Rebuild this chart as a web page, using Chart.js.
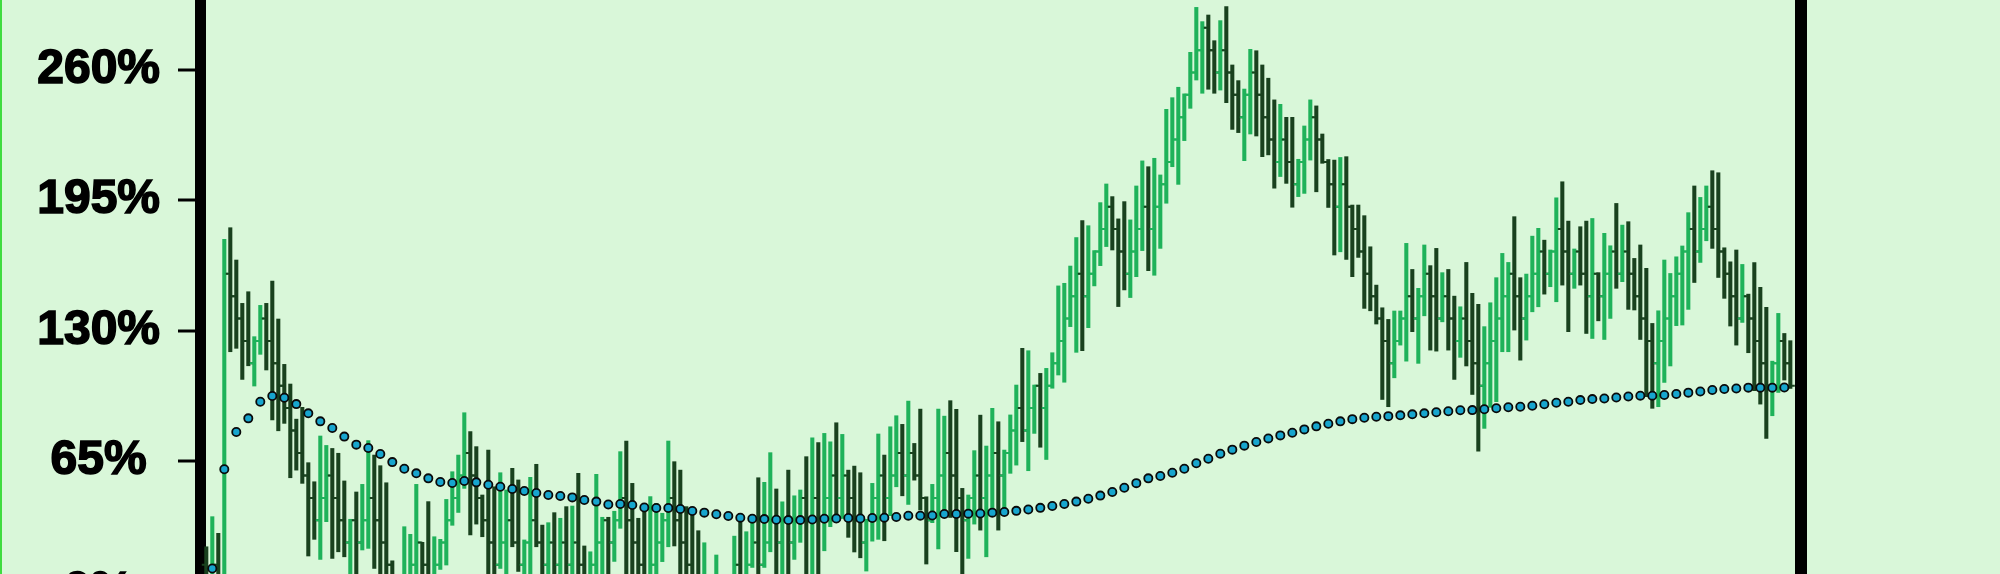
<!DOCTYPE html>
<html><head><meta charset="utf-8">
<script src="https://cdn.jsdelivr.net/npm/chart.js@4.4.1/dist/chart.umd.min.js"></script>
<style>html,body{margin:0;padding:0;background:#d9f7d9;overflow:hidden}#wrap{width:2000px;height:574px;position:relative}</style>
</head><body><div id="wrap"><canvas id="c" width="2000" height="574"></canvas></div>
<script>
const yTickValues = [0, 65, 130, 195, 260];
const opens = [
13.3,2.2,13.3,2.2,158.3,147.1,136.0,124.8,113.7,124.8,
136.0,124.8,113.7,102.5,91.4,80.2,69.0,57.8,46.6,35.5,
46.6,57.8,46.6,35.5,24.4,35.5,24.4,35.5,46.6,35.5,
24.4,13.3,2.2,-8.9,2.2,13.3,24.4,13.3,2.2,13.3,
24.4,35.5,46.6,57.8,69.0,57.8,46.6,35.5,24.4,13.3,
24.4,35.5,24.4,13.3,24.4,35.5,24.4,13.3,24.4,13.3,
24.4,13.3,24.4,13.3,2.2,13.3,24.4,35.5,24.4,35.5,
46.6,35.5,24.4,13.3,2.2,13.3,24.4,35.5,46.6,35.5,
24.4,13.3,2.2,-8.9,2.2,-8.9,2.2,-8.9,2.2,13.3,
2.2,13.3,24.4,13.3,24.4,35.5,24.4,35.5,24.4,35.5,
46.6,35.5,46.6,35.5,46.6,57.8,46.6,57.8,46.6,35.5,
24.4,35.5,46.6,57.8,46.6,57.8,69.0,57.8,69.0,57.8,
46.6,35.5,46.6,57.8,69.0,57.8,46.6,35.5,46.6,57.8,
46.6,57.8,69.0,57.8,69.0,80.2,91.4,80.2,91.4,102.5,
91.4,102.5,113.7,124.8,136.0,147.1,158.3,147.1,158.3,169.4,
180.6,191.7,180.6,169.4,158.3,169.4,180.6,191.7,180.6,191.7,
202.9,214.0,225.2,236.3,247.5,258.6,269.8,280.9,269.8,258.6,
269.8,258.6,247.5,236.3,247.5,258.6,247.5,236.3,225.2,214.0,
225.2,214.0,202.9,214.0,225.2,236.3,225.2,214.0,202.9,191.7,
202.9,191.7,180.6,169.4,158.3,147.1,136.0,124.8,113.7,124.8,
136.0,147.1,136.0,147.1,158.3,147.1,136.0,147.1,136.0,124.8,
136.0,124.8,113.7,102.5,113.7,124.8,136.0,147.1,158.3,147.1,
136.0,147.1,158.3,169.4,158.3,169.4,180.6,169.4,158.3,169.4,
158.3,147.1,158.3,147.1,158.3,169.4,158.3,169.4,158.3,147.1,
136.0,124.8,113.7,124.8,136.0,147.1,158.3,169.4,180.6,169.4,
180.6,191.7,180.6,169.4,158.3,147.1,136.0,147.1,136.0,124.8,
113.7,102.5,113.7,124.8,113.7];
const highs = [
22.3,37.3,29.0,175.5,181.3,165.2,143.6,149.4,127.0,142.6,
143.6,154.7,135.8,113.2,103.4,85.9,91.8,64.2,54.7,77.5,
72.8,71.3,68.9,55.1,36.0,49.6,53.4,75.2,68.0,62.7,
54.2,15.3,5.0,32.3,28.5,53.4,24.5,44.8,27.3,26.0,
45.9,59.7,68.0,89.1,79.7,72.2,48.1,70.5,52.2,59.2,
50.6,61.4,55.6,25.7,56.9,63.4,33.1,34.3,39.3,36.5,
42.3,42.6,58.9,22.7,19.8,58.4,37.0,37.0,40.0,69.7,
75.0,53.9,36.5,42.3,47.3,43.9,39.0,75.0,64.7,60.5,
42.3,38.1,30.3,24.3,5.0,18.2,4.0,6.0,27.6,36.4,
29.8,36.5,56.7,54.4,69.2,51.1,44.7,60.5,47.7,50.6,
67.2,76.6,74.2,78.8,74.6,84.1,78.3,60.5,62.5,59.2,
36.0,53.9,78.5,68.0,82.1,87.6,83.3,94.9,73.8,90.9,
47.2,53.4,90.9,87.4,95.1,90.8,51.4,48.1,70.2,87.9,
72.5,91.3,84.6,70.5,88.0,102.9,121.2,120.0,102.9,108.7,
111.2,119.0,152.3,153.6,162.2,176.4,184.8,182.3,169.9,193.8,
203.1,196.8,185.7,194.3,185.2,202.1,214.6,211.7,215.9,207.6,
240.3,246.1,251.3,248.0,268.7,291.1,284.0,287.3,274.5,284.5,
291.5,262.4,254.6,250.4,270.2,269.5,262.4,255.8,245.0,242.8,
236.3,236.3,215.4,232.0,245.0,242.0,228.0,215.3,215.0,216.3,
216.7,192.6,192.6,187.3,171.8,152.7,141.4,135.6,139.8,139.8,
173.5,160.5,151.1,172.7,162.4,171.0,158.9,160.5,147.2,141.9,
164.0,148.6,143.1,132.0,143.9,156.4,168.5,164.0,186.8,156.4,
158.2,177.1,181.0,175.1,170.2,196.2,204.2,184.6,170.7,181.8,
184.6,185.9,158.9,178.5,172.3,193.4,182.6,184.3,166.0,172.7,
161.0,133.6,139.9,165.2,158.5,166.8,172.2,188.8,202.1,196.4,
202.1,209.7,208.7,171.3,164.3,170.2,163.0,148.2,163.9,151.6,
141.6,114.8,138.6,128.6,125.0];
const lows = [
-20,-15,-20,-5,119.5,121.2,105.7,112.5,102.4,118.2,
110.4,85.5,80.1,83.8,56.7,60.5,53.9,17.7,26.0,16.0,
34.8,16.5,19.8,17.3,-5,-5,20.7,21.5,11.5,0,
-5,-10,-15,-15,-5,0,0,-5,-3,11,
13.2,33,39.4,51.4,28.2,33.6,27.3,0,-5,11.5,
0,22.3,10,0,5,22.3,0,0,-3,0,
-3,0,0,-8,-5,0,5,0,15,31.5,
0,-3,-5,-8,-5,0,14.9,22.3,22.7,0,
-3,-8,-15,-12,-15,-12,-15,-12,-5,-5,
-5,12,0,12,19.8,0,0,0,16.0,24.5,
5,5,5,20.3,32.3,34.3,36.4,27.0,19.7,16.8,
10.2,25.1,26.0,25.3,37.8,52.2,47.7,43.4,55.5,40.6,
13.7,34.3,21.2,40.6,36.9,19.8,0,16.5,33.6,30.6,
17.3,40.6,30.6,40.0,58.9,63.0,74.7,60.2,78.8,71.9,
65.8,101.3,107.9,104.3,132.0,119.2,120.0,131.5,152.3,162.4,
171.9,170.2,142.0,150.3,146.5,156.9,169.9,159.9,157.6,171.0,
193.5,211.7,202.9,224.7,240.8,254.9,248.3,250.3,248.3,249.9,
243.6,230.3,228.7,214.7,228.0,227.0,216.7,217.6,201.0,206.8,
203.4,191.5,196.8,198.4,215.0,199.2,213.4,191.4,167.7,169.3,
165.5,156.9,166.5,141.1,139.9,133.3,95.7,92.1,106.5,122.8,
114.8,129.5,113.7,137.4,120.3,119.8,134.4,120.3,105.7,116.7,
112.4,98.2,70.0,81.3,91.8,94.6,119.5,119.5,130.3,115.3,
125.3,139.4,141.9,148.2,151.9,144.4,152.7,129.5,151.1,152.7,
128.6,126.1,134.9,125.6,136.1,151.1,154.4,140.6,140.3,125.6,
97.1,91.3,92.1,104.2,112.4,132.5,132.8,140.6,154.0,164.0,
174.8,171.0,156.5,146.1,132.3,122.8,134.1,119.0,100.1,93.4,
76.3,87.6,99.2,105.4,101.2];
const closes = [
2.2,13.3,2.2,158.3,147.1,136.0,124.8,113.7,124.8,136.0,
124.8,113.7,102.5,91.4,80.2,69.0,57.8,46.6,35.5,46.6,
57.8,46.6,35.5,24.4,35.5,24.4,35.5,46.6,35.5,24.4,
13.3,2.2,-8.9,2.2,13.3,24.4,13.3,2.2,13.3,24.4,
35.5,46.6,57.8,69.0,57.8,46.6,35.5,24.4,13.3,24.4,
35.5,24.4,13.3,24.4,35.5,24.4,13.3,24.4,13.3,24.4,
13.3,24.4,13.3,2.2,13.3,24.4,35.5,24.4,35.5,46.6,
35.5,24.4,13.3,2.2,13.3,24.4,35.5,46.6,35.5,24.4,
13.3,2.2,-8.9,2.2,-8.9,2.2,-8.9,2.2,13.3,2.2,
13.3,24.4,13.3,24.4,35.5,24.4,35.5,24.4,35.5,46.6,
35.5,46.6,35.5,46.6,57.8,46.6,57.8,46.6,35.5,24.4,
35.5,46.6,57.8,46.6,57.8,69.0,57.8,69.0,57.8,46.6,
35.5,46.6,57.8,69.0,57.8,46.6,35.5,46.6,57.8,46.6,
57.8,69.0,57.8,69.0,80.2,91.4,80.2,91.4,102.5,91.4,
102.5,113.7,124.8,136.0,147.1,158.3,147.1,158.3,169.4,180.6,
191.7,180.6,169.4,158.3,169.4,180.6,191.7,180.6,191.7,202.9,
214.0,225.2,236.3,247.5,258.6,269.8,280.9,269.8,258.6,269.8,
258.6,247.5,236.3,247.5,258.6,247.5,236.3,225.2,214.0,225.2,
214.0,202.9,214.0,225.2,236.3,225.2,214.0,202.9,191.7,202.9,
191.7,180.6,169.4,158.3,147.1,136.0,124.8,113.7,124.8,136.0,
147.1,136.0,147.1,158.3,147.1,136.0,147.1,136.0,124.8,136.0,
124.8,113.7,102.5,113.7,124.8,136.0,147.1,158.3,147.1,136.0,
147.1,158.3,169.4,158.3,169.4,180.6,169.4,158.3,169.4,158.3,
147.1,158.3,147.1,158.3,169.4,158.3,169.4,158.3,147.1,136.0,
124.8,113.7,124.8,136.0,147.1,158.3,169.4,180.6,169.4,180.6,
191.7,180.6,169.4,158.3,147.1,136.0,147.1,136.0,124.8,113.7,
102.5,113.7,124.8,113.7,102.5];
const avgValues = [
11.5,60.9,79.5,86.3,94.6,97.4,96.6,93.4,88.8,84.8,
81.5,77.2,73.2,71.5,68.5,64.5,61.2,58.9,56.4,54.6,
54.1,55.1,54.4,53.2,52.2,51.1,50.1,49.1,48.1,47.6,
46.9,45.6,44.8,43.4,43.6,43.1,41.9,41.6,41.6,41.1,
40.1,39.3,38.5,37.6,36.8,36.3,36.1,35.8,35.6,35.6,
35.9,36.3,36.4,36.6,36.4,36.6,36.8,37.1,37.8,37.8,
37.9,38.6,38.6,38.8,38.9,39.3,39.6,40.2,40.9,41.7,
42.6,43.6,44.8,46.2,47.8,49.6,51.7,54.0,56.4,57.6,
59.2,61.2,63.9,66.2,68.7,70.7,72.7,74.5,76.3,77.8,
79.1,80.8,82.3,83.6,84.8,85.9,86.6,87.1,87.4,87.8,
88.3,88.8,89.3,89.8,90.3,90.4,90.8,91.3,91.8,92.1,
92.6,93.3,94.1,94.6,95.4,95.9,96.2,96.7,97.2,97.6,
97.6,97.9,98.4,99.1,99.7,100.4,100.9,101.2,101.6,101.6,
101.6,101.7];
// the average is plotted on every second bar, starting with bar 1
const avgBarIndex = avgValues.map((v, i) => 2 * i + 1);

const X_MIN = -1.05, X_MAX = 265.78, Y_MIN = 8.73, Y_MAX = 294.78;
const UP = '#1fb25a', DOWN = '#19411e';
const barColors = closes.map((c, i) => (c >= opens[i] ? UP : DOWN));
const barData = closes.map((c, i) => ({ x: i, y: [lows[i], highs[i]] }));
const avgData = avgValues.map((v, i) => ({ x: avgBarIndex[i], y: v }));

const bgPlugin = {
  id: 'bg',
  beforeDraw(chart) {
    const { ctx, width, height } = chart;
    ctx.save();
    ctx.fillStyle = '#d9f7d9';
    ctx.fillRect(0, 0, width, height);
    ctx.fillStyle = '#3fdc3f';
    ctx.fillRect(0, 0, 2, height);
    ctx.restore();
  }
};
const ohlcTicks = {
  id: 'ohlcTicks',
  afterDatasetDraw(chart, args) {
    if (args.index !== 0) return;
    const { ctx, chartArea: a, scales: { x, y } } = chart;
    ctx.save();
    ctx.beginPath();
    ctx.rect(a.left, a.top, a.right - a.left, a.bottom - a.top);
    ctx.clip();
    ctx.lineWidth = 2;
    for (let i = 0; i < closes.length; i++) {
      const px = x.getPixelForValue(i);
      const yo = y.getPixelForValue(opens[i]);
      const yc = y.getPixelForValue(closes[i]);
      ctx.strokeStyle = barColors[i];
      ctx.beginPath();
      ctx.moveTo(px - 4.5, yo); ctx.lineTo(px, yo);
      ctx.moveTo(px, yc); ctx.lineTo(px + 4.5, yc);
      ctx.stroke();
    }
    ctx.restore();
  }
};

new Chart(document.getElementById('c'), {
  type: 'bar',
  data: {
    datasets: [
      { type: 'bar', data: barData, backgroundColor: barColors, barThickness: 3.4, borderWidth: 0,
        grouped: false, order: 2, xAxisID: 'x', yAxisID: 'y' },
      { type: 'scatter', data: avgData, pointRadius: 4.1, pointBorderWidth: 1.8,
        pointBackgroundColor: '#17a5ce', pointBorderColor: '#0a0a0a', showLine: false,
        order: 1, xAxisID: 'x', yAxisID: 'y' }
    ]
  },
  options: {
    responsive: false, animation: false, devicePixelRatio: 1,
    layout: { padding: 0, autoPadding: false },
    plugins: { legend: { display: false }, tooltip: { enabled: false } },
    scales: {
      x: {
        type: 'linear', display: false, offset: false, bounds: 'data', grace: 0,
        min: X_MIN, max: X_MAX, ticks: { display: false },
        afterDataLimits(s) { s.min = X_MIN; s.max = X_MAX; },
        afterBuildTicks(s) { s.ticks = [{ value: X_MIN }, { value: X_MAX }]; s.min = X_MIN; s.max = X_MAX; }
      },
      y: {
        type: 'linear', position: 'left', min: Y_MIN, max: Y_MAX,
        afterBuildTicks(s) { s.ticks = yTickValues.map(v => ({ value: v })); s.min = Y_MIN; s.max = Y_MAX; },
        afterFit(s) { s.width = 200; s.paddingTop = 0; s.paddingBottom = 0; },
        ticks: { callback: v => v + '%', color: '#000', autoSkip: false, padding: 18, crossAlign: 'center',
          textStrokeColor: '#000', textStrokeWidth: 1.6,
          font: { family: '"Liberation Sans", Arial, sans-serif', size: 48, weight: 'bold' } },
        grid: { display: true, drawOnChartArea: false, drawTicks: true, tickLength: 22,
          tickWidth: 3, tickColor: '#000', lineWidth: 0 },
        border: { display: true, color: '#000', width: 11 }
      },
      yR: {
        type: 'linear', position: 'right', min: Y_MIN, max: Y_MAX,
        ticks: { display: false },
        grid: { display: false, lineWidth: 0, drawTicks: false },
        border: { display: true, color: '#000', width: 12 },
        afterFit(s) { s.width = 199; s.paddingTop = 0; s.paddingBottom = 0; }
      }
    }
  },
  plugins: [bgPlugin, ohlcTicks]
});
</script>
</body></html>
